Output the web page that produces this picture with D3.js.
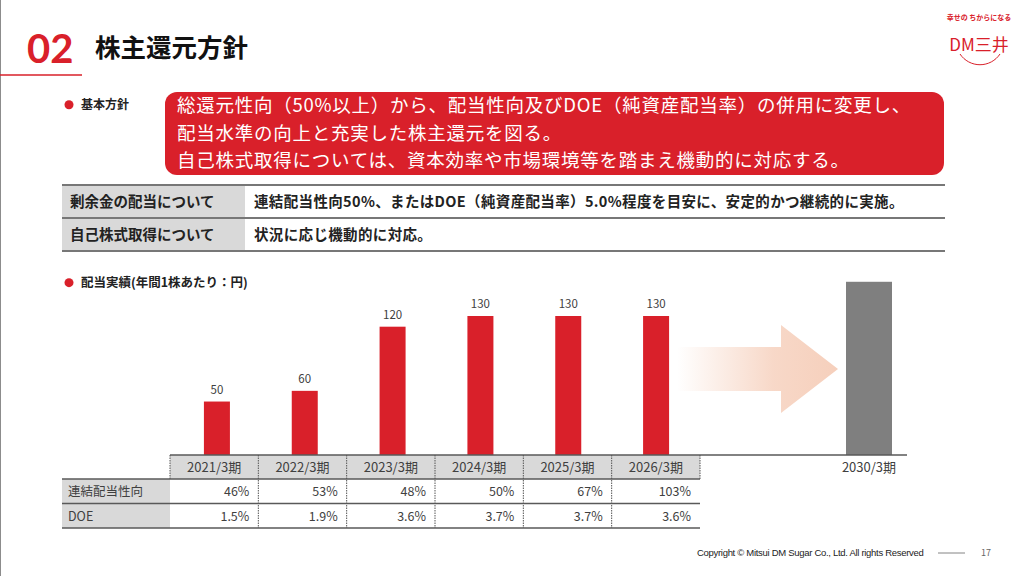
<!DOCTYPE html>
<html>
<head>
<meta charset="utf-8">
<script src="https://cdn.jsdelivr.net/npm/d3@7"></script>
<style>
    html, body { margin: 0; padding: 0; background: #fff; }
    svg { display: block; font-family: "Noto Sans CJK JP", "Noto Sans", sans-serif; }
</style>
</head>
<body>
<div id="slide"></div>
<script>
// chart data
const years = ['2021/3期', '2022/3期', '2023/3期', '2024/3期', '2025/3期', '2026/3期']
const dividends = [50, 60, 120, 130, 130, 130]
const payoutRatio = ['46%', '53%', '48%', '50%', '67%', '103%']
const doeRatio = ['1.5%', '1.9%', '3.6%', '3.7%', '3.7%', '3.6%']
const rowLabels = ['連結配当性向', 'DOE']
const targetYear = '2030/3期'
const targetValue = 162

const policyLines = [
    '総還元性向（50%以上）から、配当性向及びDOE（純資産配当率）の併用に変更し、',
    '配当水準の向上と充実した株主還元を図る。',
    '自己株式取得については、資本効率や市場環境等を踏まえ機動的に対応する。'
]
const policyRows = [
    ['剰余金の配当について', '連結配当性向50%、またはDOE（純資産配当率）5.0%程度を目安に、安定的かつ継続的に実施。'],
    ['自己株式取得について', '状況に応じ機動的に対応。']
]

const RED = '#d9202a'
const GRAY_CELL = '#d9d9d9'
const LINE = '#595959'
const TXT = '#404040'

let svg = d3.select('#slide').append('svg')
    .attr('width', 1024)
    .attr('height', 576)

// header
svg.append('line').attr('x1', 0.5).attr('x2', 0.5).attr('y1', 0).attr('y2', 576)
    .attr('stroke', '#8c8c8c').attr('stroke-width', 1)
svg.append('line').attr('x1', 0).attr('x2', 82).attr('y1', 75).attr('y2', 75)
    .attr('stroke', RED).attr('stroke-width', 1.5)
svg.append('text').attr('x', 27).attr('y', 63)
    .attr('font-size', 40).attr('font-weight', 'bold').attr('fill', RED)
    .attr('font-family', 'Lato, "Open Sans", sans-serif')
    .text('02')
svg.append('text').attr('x', 95).attr('y', 57)
    .attr('font-size', 25.5).attr('font-weight', 'bold').attr('fill', '#111')
    .text('株主還元方針')

// logo
let logo = svg.append('g')
logo.append('text').attr('x', 979).attr('y', 20).attr('text-anchor', 'middle')
    .attr('font-size', 7).attr('font-weight', 'bold').attr('fill', RED).text('幸せの ちからになる')
logo.append('text').attr('x', 979).attr('y', 51).attr('text-anchor', 'middle')
    .attr('font-size', 17).attr('fill', RED).text('DM三井')
logo.append('path').attr('d', 'M960,54 A24,24 0 0 0 1000,54')
    .attr('fill', 'none').attr('stroke', RED).attr('stroke-width', 1)

// bullet: basic policy
function bullet(x, y, label, size) {
    svg.append('circle').attr('cx', x).attr('cy', y - size * 0.35).attr('r', 4.5).attr('fill', RED)
    svg.append('text').attr('x', x + 12).attr('y', y)
        .attr('font-size', size).attr('font-weight', 'bold').attr('fill', '#222').text(label)
}
bullet(69, 109, '基本方針', 12)

svg.append('rect').attr('x', 165).attr('y', 92).attr('width', 779).attr('height', 83)
    .attr('rx', 12).attr('fill', RED)
svg.append('g').selectAll('text')
    .data(policyLines)
    .enter()
    .append('text')
    .attr('x', 177)
    .attr('y', (d, i) => 112 + i * 27.5)
    .attr('font-size', 18.5)
    .attr('letter-spacing', 0.75)
    .attr('fill', '#fff')
    .text(d => d)

// policy table
let pt = svg.append('g')
pt.selectAll('rect.lab')
    .data(policyRows)
    .enter()
    .append('rect')
    .attr('x', 62).attr('y', (d, i) => 185 + i * 33)
    .attr('width', 183).attr('height', 33)
    .attr('fill', GRAY_CELL)
pt.selectAll('text.lab')
    .data(policyRows)
    .enter()
    .append('text')
    .attr('x', 70).attr('y', (d, i) => 207 + i * 33)
    .attr('font-size', 14.5).attr('font-weight', 'bold').attr('fill', '#222')
    .text(d => d[0])
pt.selectAll('text.val')
    .data(policyRows)
    .enter()
    .append('text')
    .attr('x', 254).attr('y', (d, i) => 206.5 + i * 33)
    .attr('font-size', 14.5).attr('font-weight', 'bold').attr('fill', '#222')
    .attr('letter-spacing', 0.35)
    .text(d => d[1])
pt.selectAll('line')
    .data([185, 218, 251])
    .enter()
    .append('line')
    .attr('x1', 62).attr('x2', 945).attr('y1', d => d).attr('y2', d => d)
    .attr('stroke', '#777').attr('stroke-width', 2)

// dividend chart
bullet(69, 287, '配当実績(年間1株あたり：円)', 12.5)

let baseY = 455
let x = d3.scaleBand()
    .domain(years)
    .range([170, 700])
// bars sit a little right of the table columns in the original
let xBar = d3.scaleBand()
    .domain(years)
    .range([173, 700])
let y = d3.scaleLinear()
    .domain([0, 130])
    .range([baseY, 316])
let barW = 26

// arrow with gradient
let defs = svg.append('defs')
let grad = defs.append('linearGradient').attr('id', 'arrowGrad')
    .attr('x1', 0).attr('x2', 1).attr('y1', 0).attr('y2', 0)
grad.append('stop').attr('offset', '0%').attr('stop-color', '#f4c7b0').attr('stop-opacity', 0)
grad.append('stop').attr('offset', '60%').attr('stop-color', '#f4c7b0').attr('stop-opacity', 0.7)
grad.append('stop').attr('offset', '100%').attr('stop-color', '#f4c7b0').attr('stop-opacity', 0.85)
svg.append('path')
    .attr('d', 'M677,347 L781,347 L781,325 L838,369 L781,413 L781,391 L677,391 Z')
    .attr('fill', 'url(#arrowGrad)')

svg.append('g')
    .selectAll('rect')
    .data(dividends)
    .enter()
    .append('rect')
    .attr('x', (d, i) => xBar(years[i]) + xBar.bandwidth() / 2 - barW / 2)
    .attr('y', d => y(d))
    .attr('width', barW)
    .attr('height', d => y(0) - y(d))
    .attr('fill', RED)

svg.append('g')
    .selectAll('text')
    .data(dividends)
    .enter()
    .append('text')
    .attr('x', (d, i) => xBar(years[i]) + xBar.bandwidth() / 2)
    .attr('y', d => y(d) - 8)
    .attr('text-anchor', 'middle')
    .attr('font-size', 11.5)
    .attr('fill', TXT)
    .text(d => d)

// target bar (2030)
let targetCx = 869
svg.append('rect')
    .attr('x', targetCx - 23).attr('y', y(targetValue))
    .attr('width', 46).attr('height', y(0) - y(targetValue))
    .attr('fill', '#7f7f7f')
svg.append('text').attr('x', targetCx).attr('y', 472)
    .attr('text-anchor', 'middle').attr('font-size', 13).attr('fill', TXT)
    .text(targetYear)

// table below chart
svg.append('rect').attr('x', 170).attr('y', baseY).attr('width', 530).attr('height', 24)
    .attr('fill', GRAY_CELL)
svg.append('rect').attr('x', 62).attr('y', 479).attr('width', 108).attr('height', 49)
    .attr('fill', GRAY_CELL)

svg.append('g')
    .selectAll('text')
    .data(years)
    .enter()
    .append('text')
    .attr('x', d => x(d) + x.bandwidth() / 2)
    .attr('y', 472)
    .attr('text-anchor', 'middle')
    .attr('font-size', 13)
    .attr('fill', TXT)
    .text(d => d)

let rows = [payoutRatio, doeRatio]
rows.forEach((row, r) => {
    let ty = 496 + r * 24.5
    svg.append('text').attr('x', 68).attr('y', ty)
        .attr('font-size', 12.5).attr('fill', TXT).text(rowLabels[r])
    svg.append('g')
        .selectAll('text')
        .data(row)
        .enter()
        .append('text')
        .attr('x', (d, i) => x(years[i]) + x.bandwidth() - 9)
        .attr('y', ty)
        .attr('text-anchor', 'end')
        .attr('font-size', 12.5)
        .attr('fill', TXT)
        .text(d => d)
})

// grid lines
svg.append('line').attr('x1', 170).attr('x2', 907).attr('y1', baseY).attr('y2', baseY)
    .attr('stroke', LINE).attr('stroke-width', 1.5)
svg.append('g')
    .selectAll('line')
    .data([479, 503.5, 528])
    .enter()
    .append('line')
    .attr('x1', 62).attr('x2', 700).attr('y1', d => d).attr('y2', d => d)
    .attr('stroke', LINE).attr('stroke-width', 1.5)
svg.append('g')
    .selectAll('line')
    .data(years.slice(1))
    .enter()
    .append('line')
    .attr('x1', d => x(d)).attr('x2', d => x(d))
    .attr('y1', baseY).attr('y2', 528)
    .attr('stroke', '#555').attr('stroke-width', 1)
    .attr('stroke-dasharray', '1.5,1')
svg.append('line').attr('x1', 170).attr('x2', 170).attr('y1', baseY).attr('y2', 479)
    .attr('stroke', '#555').attr('stroke-dasharray', '1.5,1')
svg.append('line').attr('x1', 700).attr('x2', 700).attr('y1', baseY).attr('y2', 479)
    .attr('stroke', '#555').attr('stroke-dasharray', '1.5,1')

// footer
svg.append('text').attr('x', 697).attr('y', 556)
    .attr('font-size', 9.5).attr('fill', '#222')
    .attr('font-family', '"Liberation Sans", sans-serif')
    .attr('letter-spacing', -0.3)
    .text('Copyright © Mitsui DM Sugar Co., Ltd. All rights Reserved')
svg.append('line').attr('x1', 938).attr('x2', 965).attr('y1', 553).attr('y2', 553)
    .attr('stroke', '#666').attr('stroke-width', 0.8)
svg.append('text').attr('x', 981).attr('y', 556)
    .attr('font-size', 9).attr('fill', '#666').text('17')
</script>
</body>
</html>
